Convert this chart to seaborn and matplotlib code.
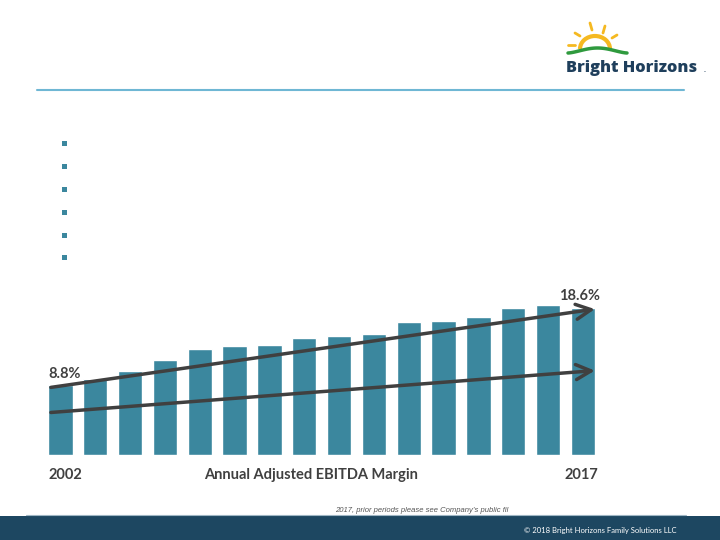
import numpy as np
import pandas as pd
import matplotlib
matplotlib.use("Agg")
import matplotlib.pyplot as plt
from matplotlib.patches import Arc, Rectangle
import seaborn as sns

# Datos: margen EBITDA ajustado anual (%)
years = list(range(2002, 2018))
margins = [8.8, 9.6, 10.6, 12.0, 13.4, 13.8, 13.9, 14.8, 15.0, 15.3,
           16.8, 17.0, 17.5, 18.6, 19.0, 18.6]
first_label = "8.8%"
last_label = "18.6%"
axis_title = "Annual Adjusted EBITDA Margin"
# flechas de tendencia: (inicio, fin) en % de margen
trend_upper = [8.5, 18.5]
trend_lower = [5.35, 10.7]

df = pd.DataFrame({"year": [str(y) for y in years], "margin": margins})

sns.set_theme(style="white")
plt.rcParams["font.family"] = ["Lato", "DejaVu Sans"]

bar_color = "#3b879e"
dark = "#404040"

fig = plt.figure(figsize=(7.2, 5.4), dpi=100)

# capa de decoracion en coordenadas de pixel
deco = fig.add_axes([0, 0, 1, 1])
deco.set_xlim(0, 720)
deco.set_ylim(540, 0)
deco.axis("off")

# linea bajo cabecera
deco.plot([37, 684], [90, 90], color="#6fb7d4", lw=1.5)

# vinetas
for yb in [143, 166, 189, 212, 235, 257]:
    deco.add_patch(Rectangle((62, yb - 2.5), 5, 5, color=bar_color, lw=0))

# logo
deco.add_patch(Arc((595, 49), 30, 26, theta1=180, theta2=360, color="#f5b921", lw=3))
for (x0, y0, x1, y1) in [(590, 23, 592, 30), (605, 26, 603, 33), (575, 33, 580, 36),
                         (617, 35, 612, 38), (568, 45, 575, 45)]:
    deco.plot([x0, x1], [y0, y1], color="#f5b921", lw=2, solid_capstyle="round")
hx = np.linspace(568, 627, 60)
hy = 53 - 5 * np.sin((hx - 568) / 59 * np.pi) ** 1.5
deco.plot(hx, hy, color="#2f9a3e", lw=2.5)
deco.text(566, 72, "Bright Horizons", fontsize=11.8, fontweight="heavy",
          color="#1f3f5c", family=["Open Sans", "DejaVu Sans"], va="baseline")
deco.text(704, 72, ".", fontsize=6, color="#1f3f5c", va="baseline")

# pie de pagina
deco.add_patch(Rectangle((0, 516), 720, 24, color="#1d4761", lw=0))
deco.plot([26, 686], [515, 515], color="#9fb6c4", lw=0.8)
deco.text(335, 512, "2017, prior periods please see Company\u2019s public fil",
          fontsize=5.5, style="italic", color="#555555",
          family=["Liberation Sans", "DejaVu Sans"], va="baseline")
deco.text(677, 530, "\u00a9 2018 Bright Horizons Family Solutions LLC",
          fontsize=5.5, color="white", ha="right", va="center")

# grafico de barras
ax = fig.add_axes([0.0596, 0.1574, 0.7743, 0.3222])
sns.barplot(data=df, x="year", y="margin", color=bar_color, width=0.7,
            saturation=1, ax=ax)
ax.set_xlim(-0.5, len(years) - 0.5)
ax.set_ylim(0, 22)
ax.axis("off")

n = len(years)
for tr in (trend_upper, trend_lower):
    ax.annotate("", xy=(n - 1 + 0.42, tr[1]), xytext=(-0.35, tr[0]),
                arrowprops=dict(arrowstyle="->,head_length=0.9,head_width=0.45",
                                color=dark, lw=2.5))

ax.text(-0.35, margins[0] + 0.6, first_label, fontsize=10.5, fontweight="bold",
        color=dark, ha="left", va="bottom")
ax.text(n - 1 + 0.5, margins[-1] + 0.6, last_label, fontsize=10.5, fontweight="bold",
        color=dark, ha="right", va="bottom")

ax.text(-0.35, -1.6, str(years[0]), fontsize=10.5, fontweight="bold", color=dark,
        ha="left", va="top")
ax.text(n - 1 + 0.45, -1.6, str(years[-1]), fontsize=10.5, fontweight="bold",
        color=dark, ha="right", va="top")
ax.text((n - 1) / 2 - 0.3, -1.6, axis_title, fontsize=10.5, fontweight="bold",
        color=dark, ha="center", va="top")

fig.savefig("out.png", dpi=100)
